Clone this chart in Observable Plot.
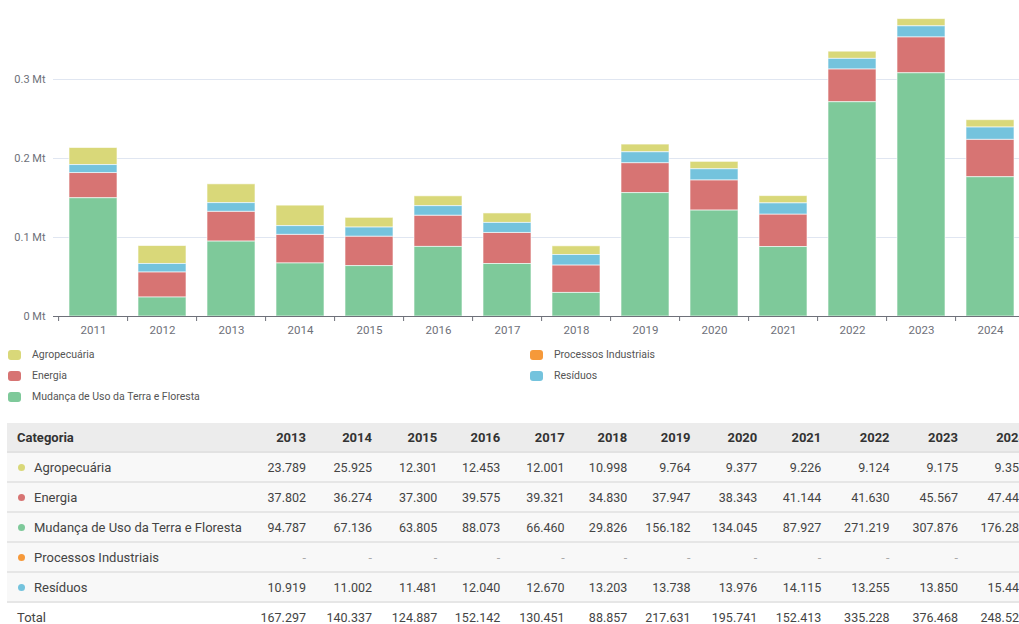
<!DOCTYPE html>
<html>
<head>
<meta charset="utf-8">
<script src="https://cdn.jsdelivr.net/npm/d3@7"></script>
<script src="https://cdn.jsdelivr.net/npm/@observablehq/plot@0.6"></script>
<style>
  html, body { margin: 0; padding: 0; background: #fff; overflow: hidden; width: 1019px; height: 624px; }
  body { font-family: Roboto, "Noto Sans", sans-serif; position: relative; }
  #chart { position: absolute; left: 0; top: 0; width: 1031px; }
  #chart svg { max-width: none !important; }
  #legend { position: absolute; left: 8px; top: 348px; width: 1000px; font-size: 10.5px; color: #555; }
  .lg { position: absolute; display: flex; align-items: center; white-space: nowrap; }
  .sw { width: 13px; height: 10px; border-radius: 3px; margin-right: 11px; }
  #tbl { position: absolute; left: 7px; top: 423px; border-collapse: collapse; table-layout: fixed; font-size: 12.5px; color: #444; }
  #tbl th, #tbl td { height: 28px; padding: 0 10px 0 0; text-align: right; white-space: nowrap; overflow: visible; }
  #tbl th { background: #ececec; color: #333; font-weight: 700; font-size: 13px; height: 28px; border-bottom: 2px solid #e2e2e2; }
  #tbl tbody tr.cat td { background: #f8f8f8; border-bottom: 2px solid #e6e6e6; }
  #tbl th:first-child, #tbl td:first-child { text-align: left; padding-left: 10px; font-size: 13px; }
  .dot { display: inline-block; width: 7px; height: 7px; border-radius: 50%; margin-right: 9px; margin-left: 1px; vertical-align: 1px; }
  .dash { color: #aaa; }
</style>
</head>
<body>
<div id="chart"></div>
<div id="legend"></div>
<table id="tbl"></table>
<script>
const years = [2011, 2012, 2013, 2014, 2015, 2016, 2017, 2018, 2019, 2020, 2021, 2022, 2023, 2024];
const categories = ["Agropecuária", "Energia", "Mudança de Uso da Terra e Floresta", "Processos Industriais", "Resíduos"];
const colors = ["#d9d879", "#d77473", "#7ec99a", "#f6993a", "#74c3dd"];
// tonnes (2011-2012 estimated from the bars)
const agropecuaria = [21600, 22700, 23789, 25925, 12301, 12453, 12001, 10998, 9764, 9377, 9226, 9124, 9175, 9352];
const energia = [31900, 31900, 37802, 36274, 37300, 39575, 39321, 34830, 37947, 38343, 41144, 41630, 45567, 47446];
const mudanca = [149700, 24000, 94787, 67136, 63805, 88073, 66460, 29826, 156182, 134045, 87927, 271219, 307876, 176283];
const processos = [null, null, null, null, null, null, null, null, null, null, null, null, null, null];
const residuos = [10100, 10600, 10919, 11002, 11481, 12040, 12670, 13203, 13738, 13976, 14115, 13255, 13850, 15448];
const totals = [213300, 89200, 167297, 140337, 124887, 152142, 130451, 88857, 217631, 195741, 152413, 335228, 376468, 248529];
const yTicks = [0, 0.1, 0.2, 0.3];
const tableYears = years.slice(2);

const series = [agropecuaria, energia, mudanca, processos, residuos];
const rows = [];
categories.forEach((c, ci) => years.forEach((y, yi) => {
  const v = series[ci][yi];
  if (v != null) rows.push({year: String(y), cat: c, value: v / 1e6});
}));
const stackOrder = ["Mudança de Uso da Terra e Floresta", "Energia", "Resíduos", "Processos Industriais", "Agropecuária"];

const W = 1031, mL = 53, mR = 1;
const step = (W - mL - mR) / years.length;
const chart = Plot.plot({
  width: W, height: 338,
  marginLeft: mL, marginRight: mR, marginTop: 0, marginBottom: 22,
  style: {fontFamily: "Roboto, sans-serif", fontSize: "11px", color: "#6e7079", background: "transparent", maxWidth: "none"},
  x: {domain: years.map(String), padding: 0.3, paddingOuter: 0.15, label: null},
  y: {domain: [0, 0.4], label: null},
  color: {domain: categories, range: colors},
  marks: [
    Plot.gridY(yTicks.slice(1), {stroke: "#e0e6f1", strokeOpacity: 1}),
    Plot.axisY(yTicks, {tickSize: 0, tickPadding: 8, tickFormat: d => d + " Mt", fill: "#6e7079", fontSize: 11, label: null}),
    Plot.barY(rows, {x: "year", y: "value", fill: "cat", order: stackOrder, stroke: "#fff", strokeWidth: 1, strokeOpacity: 0.6}),
    Plot.ruleY([0], {stroke: "#6e7079"}),
    Plot.ruleX(years.map(String), {x: d => d, dx: -step / 2, y1: 0, y2: 0, insetBottom: -5, stroke: "#6e7079"}),
    Plot.axisX({tickSize: 0, tickPadding: 9, fill: "#6e7079", fontSize: 11.5, label: null})
  ]
});
document.getElementById("chart").appendChild(chart);

// legend
const legend = document.getElementById("legend");
const legendPos = [[0, 0], [0, 21], [0, 42], [522, 0], [522, 21]];
categories.forEach((c, i) => {
  const d = document.createElement("div");
  d.className = "lg";
  d.style.left = legendPos[i][0] + "px";
  d.style.top = legendPos[i][1] + "px";
  d.innerHTML = `<span class="sw" style="background:${colors[i]}"></span><span>${c}</span>`;
  legend.appendChild(d);
});

// table
const fmt = v => v == null ? '<span class="dash">-</span>' : d3.format(",.0f")(v).replace(/,/g, ".");
const colW = [243, 66, 66, 65.3, 63, 64.3, 62.7, 63.3, 66.7, 64, 68.3, 68.4, 68];
const tbl = document.getElementById("tbl");
let html = "<colgroup>" + colW.map(w => `<col style="width:${w}px">`).join("") + "</colgroup>";
html += "<thead><tr><th>Categoria</th>" + tableYears.map(y => `<th>${y}</th>`).join("") + "</tr></thead><tbody>";
categories.forEach((c, ci) => {
  html += `<tr class="cat"><td><span class="dot" style="background:${colors[ci]}"></span>${c}</td>` +
    tableYears.map((y, i) => `<td>${fmt(series[ci][i + 2])}</td>`).join("") + "</tr>";
});
html += "<tr><td>Total</td>" + tableYears.map((y, i) => `<td>${fmt(totals[i + 2])}</td>`).join("") + "</tr></tbody>";
tbl.innerHTML = html;
tbl.style.width = colW.reduce((a, b) => a + b, 0) + "px";
</script>
</body>
</html>
